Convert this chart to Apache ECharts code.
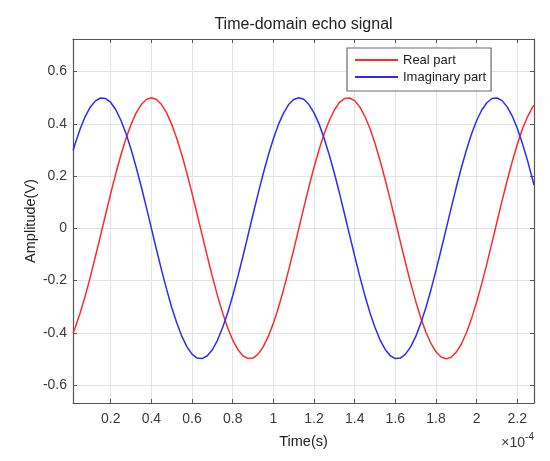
<!DOCTYPE html>
<html>
<head>
<meta charset="utf-8">
<script src="https://cdn.jsdelivr.net/npm/echarts@6/dist/echarts.min.js"></script>
<style>
  html, body { margin: 0; padding: 0; background: #fff; }
  #chart { width: 550px; height: 461px; }
</style>
</head>
<body>
<div id="chart"></div>
<script>
// time in units of 1e-4 s
const timeE4 = [0.015,
  0.025, 0.050, 0.075, 0.100, 0.125, 0.150, 0.175, 0.200, 0.225, 0.250,
  0.275, 0.300, 0.325, 0.350, 0.375, 0.400, 0.425, 0.450, 0.475, 0.500,
  0.525, 0.550, 0.575, 0.600, 0.625, 0.650, 0.675, 0.700, 0.725, 0.750,
  0.775, 0.800, 0.825, 0.850, 0.875, 0.900, 0.925, 0.950, 0.975, 1.000,
  1.025, 1.050, 1.075, 1.100, 1.125, 1.150, 1.175, 1.200, 1.225, 1.250,
  1.275, 1.300, 1.325, 1.350, 1.375, 1.400, 1.425, 1.450, 1.475, 1.500,
  1.525, 1.550, 1.575, 1.600, 1.625, 1.650, 1.675, 1.700, 1.725, 1.750,
  1.775, 1.800, 1.825, 1.850, 1.875, 1.900, 1.925, 1.950, 1.975, 2.000,
  2.025, 2.050, 2.075, 2.100, 2.125, 2.150, 2.175, 2.200, 2.225, 2.250,
  2.275, 2.282];

const realPart = [-0.401,
  -0.381, -0.323, -0.258, -0.185, -0.107, -0.027, 0.054, 0.134, 0.210, 0.281,
  0.344, 0.398, 0.442, 0.474, 0.493, 0.500, 0.493, 0.474, 0.442, 0.398,
  0.344, 0.281, 0.210, 0.134, 0.054, -0.027, -0.107, -0.185, -0.258, -0.323,
  -0.381, -0.428, -0.464, -0.488, -0.499, -0.497, -0.482, -0.454, -0.414, -0.364,
  -0.303, -0.235, -0.160, -0.082, -0.001, 0.080, 0.159, 0.234, 0.302, 0.362,
  0.413, 0.453, 0.482, 0.497, 0.499, 0.489, 0.465, 0.429, 0.382, 0.325,
  0.259, 0.186, 0.109, 0.028, -0.053, -0.132, -0.209, -0.279, -0.343, -0.397,
  -0.441, -0.473, -0.493, -0.500, -0.494, -0.474, -0.443, -0.399, -0.345, -0.282,
  -0.212, -0.136, -0.056, 0.025, 0.106, 0.183, 0.256, 0.322, 0.380, 0.427,
  0.464, 0.472];

const imagPart = [0.298,
  0.324, 0.381, 0.429, 0.465, 0.488, 0.499, 0.497, 0.482, 0.454, 0.414,
  0.363, 0.303, 0.234, 0.160, 0.081, 0.000, -0.081, -0.160, -0.234, -0.303,
  -0.363, -0.414, -0.454, -0.482, -0.497, -0.499, -0.488, -0.465, -0.429, -0.381,
  -0.324, -0.258, -0.186, -0.108, -0.028, 0.054, 0.133, 0.209, 0.280, 0.343,
  0.398, 0.441, 0.474, 0.493, 0.500, 0.494, 0.474, 0.442, 0.399, 0.344,
  0.281, 0.211, 0.135, 0.055, -0.026, -0.106, -0.184, -0.257, -0.323, -0.380,
  -0.428, -0.464, -0.488, -0.499, -0.497, -0.482, -0.454, -0.415, -0.364, -0.304,
  -0.236, -0.161, -0.082, -0.002, 0.079, 0.158, 0.233, 0.301, 0.362, 0.413,
  0.453, 0.481, 0.497, 0.499, 0.489, 0.465, 0.430, 0.382, 0.325, 0.260,
  0.187, 0.166];

const xTicks = [0.2, 0.4, 0.6, 0.8, 1, 1.2, 1.4, 1.6, 1.8, 2, 2.2];
const yTicks = [-0.6, -0.4, -0.2, 0, 0.2, 0.4, 0.6];

const xMin = 0.0144, xMax = 2.282;
const yMin = -0.669, yMax = 0.725;

const font = "'Liberation Sans', Arial, sans-serif";
const axisColor = "#555555";
const textColor = "#3a3a3a";
const gridColor = "#e4e4e4";

const chart = echarts.init(document.getElementById("chart"));

const boxAxis = (extra) => Object.assign({
  type: "value",
  axisLine: { show: true, onZero: false, lineStyle: { color: axisColor, width: 1.2 } },
  axisTick: { show: true, inside: true, length: 4, lineStyle: { color: axisColor } },
  axisLabel: { show: false },
  splitLine: { show: false },
}, extra);

const option = {
  animation: false,
  backgroundColor: "#fff",
  title: {
    text: "Time-domain echo signal",
    left: 303.5,
    textAlign: "center",
    top: 17,
    padding: 0,
    textStyle: { fontFamily: font, fontSize: 16, fontWeight: "normal", color: "#222" },
  },
  legend: {
    orient: "vertical",
    left: 347,
    top: 48,
    padding: [5, 5, 7, 8],
    itemGap: 3,
    itemWidth: 43,
    itemHeight: 1.8,
    icon: "rect",
    backgroundColor: "#fff",
    borderColor: "#6a6a6a",
    borderWidth: 1.2,
    textStyle: { fontFamily: font, fontSize: 13, color: "#222", lineHeight: 14 },
    data: ["Real part", "Imaginary part"],
  },
  grid: { left: 73, right: 16, top: 39, bottom: 58, containLabel: false },
  xAxis: [
    boxAxis({
      position: "bottom",
      min: xMin,
      max: xMax,
      name: "Time(s)",
      nameLocation: "middle",
      nameGap: 31,
      nameMoveOverlap: false,
      nameTextStyle: { fontFamily: font, fontSize: 14.5, color: "#222" },
      axisTick: { show: true, inside: true, length: 4, customValues: xTicks, lineStyle: { color: axisColor } },
      axisLabel: {
        show: true, customValues: xTicks, margin: 9,
        fontFamily: font, fontSize: 14, color: textColor,
        formatter: (v) => String(+v.toFixed(1)),
      },
      splitLine: { show: true, lineStyle: { color: gridColor, width: 1 } },
    }),
    boxAxis({
      position: "top",
      min: xMin,
      max: xMax,
      axisTick: { show: true, inside: true, length: 4, customValues: xTicks, lineStyle: { color: axisColor } },
    }),
  ],
  yAxis: [
    boxAxis({
      position: "left",
      min: yMin,
      max: yMax,
      name: "Amplitude(V)",
      nameLocation: "middle",
      nameGap: 35,
      nameMoveOverlap: false,
      nameTextStyle: { fontFamily: font, fontSize: 14.5, color: "#222" },
      axisTick: { show: true, inside: true, length: 4, customValues: yTicks, lineStyle: { color: axisColor } },
      axisLabel: {
        show: true, customValues: yTicks, margin: 6,
        fontFamily: font, fontSize: 14, color: textColor,
        formatter: (v) => String(+v.toFixed(1)),
      },
      splitLine: { show: true, lineStyle: { color: gridColor, width: 1 } },
    }),
    boxAxis({
      position: "right",
      min: yMin,
      max: yMax,
      axisTick: { show: true, inside: true, length: 4, customValues: yTicks, lineStyle: { color: axisColor } },
    }),
  ],
  graphic: [
    {
      type: "text",
      right: 16,
      top: 432,
      style: {
        text: "{a|×10}{b|-4}",
        fontFamily: font,
        fill: textColor,
        rich: {
          a: { fontFamily: font, fontSize: 14, fill: textColor, verticalAlign: "bottom" },
          b: { fontFamily: font, fontSize: 10, fill: textColor, verticalAlign: "top", padding: [0, 0, 8, 0] },
        },
      },
    },
  ],
  series: [
    {
      name: "Real part",
      type: "line",
      symbol: "none",
      data: timeE4.map((t, i) => [t, realPart[i]]),
      lineStyle: { color: "#ff2b2b", width: 1.5 },
      itemStyle: { color: "#ff2b2b" },
    },
    {
      name: "Imaginary part",
      type: "line",
      symbol: "none",
      data: timeE4.map((t, i) => [t, imagPart[i]]),
      lineStyle: { color: "#2b2bff", width: 1.5 },
      itemStyle: { color: "#2b2bff" },
    },
  ],
};

chart.setOption(option);
</script>
</body>
</html>
